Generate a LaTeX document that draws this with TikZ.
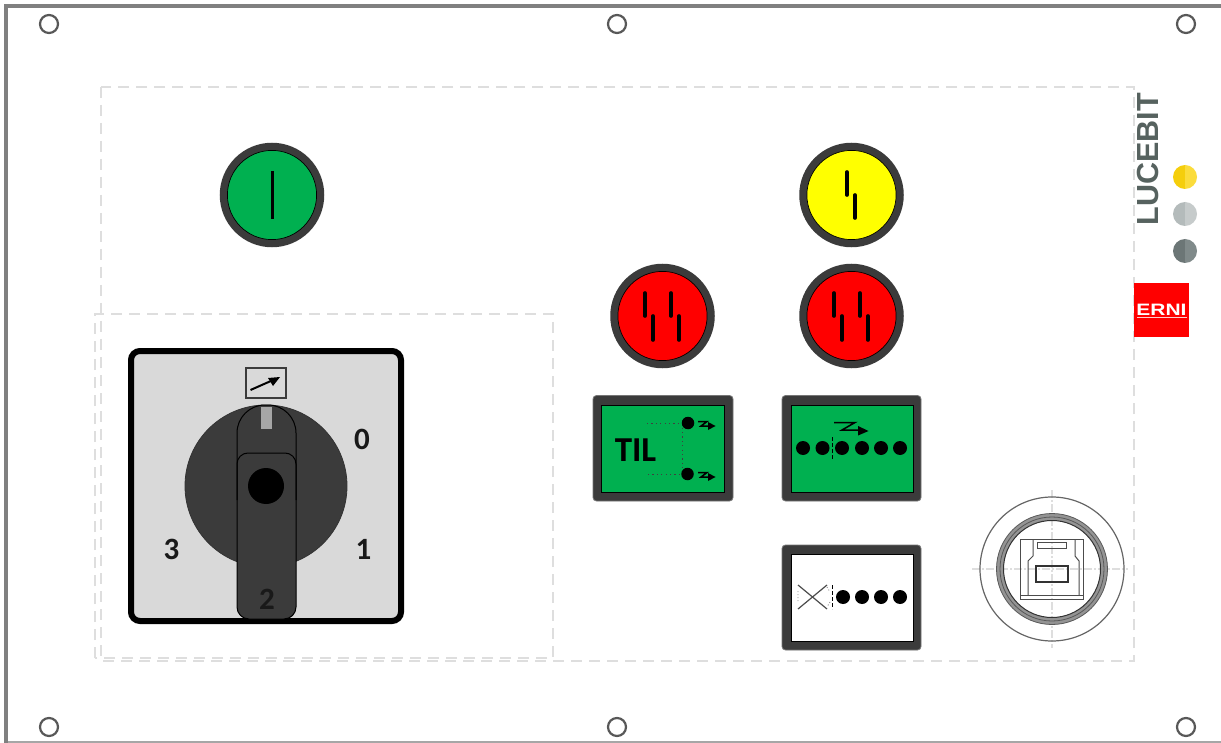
\documentclass[tikz,border=0pt]{standalone}
\usepackage{fontspec}
\setmainfont{Carlito}
\newfontfamily\logofont{Liberation Sans}
\definecolor{ringgrey}{HTML}{3B3B3B}
\definecolor{panelgrey}{HTML}{D9D9D9}
\definecolor{dashgrey}{HTML}{DEDEDE}
\definecolor{framegrey}{HTML}{808080}
\definecolor{btngreen}{HTML}{00B050}
\definecolor{btnyellow}{HTML}{FFFF00}
\definecolor{btnred}{HTML}{FF0000}
\definecolor{lucegrey}{HTML}{56625F}
\tikzset{
  x=1pt,y=-1pt,
  screwhole/.style={draw=ringgrey!85!white,line width=2.2pt,fill=white,circle,minimum size=18pt,inner sep=0pt},
  outlinedash/.style={draw=dashgrey,line width=2.4pt,dash pattern=on 11pt off 7pt},
  pushring/.style={draw=ringgrey,line width=7.5pt},
  pushedge/.style={draw=black,line width=.7pt},
  pushbar/.style={draw=black,line width=3.6pt,line cap=round},
  framebox/.style={fill=ringgrey,rounded corners=3.5pt,draw=ringgrey!70!white,line width=.8pt},
  framewin/.style={draw=black,line width=.8pt},
  blackdot/.style={fill=black,circle,minimum size=14pt,inner sep=0pt},
  smalldot/.style={fill=black,circle,minimum size=12.5pt,inner sep=0pt},
  dialnum/.style={font=\fontsize{31}{31}\selectfont\bfseries,text=black!90,inner sep=0pt},
  dots/.style={draw=black!75,line width=1pt,dash pattern=on 1.2pt off 3.2pt},
  usbline/.style={draw=black!70,line width=1pt},
  cross/.style={draw=dashgrey,line width=1.8pt,dash pattern=on 8pt off 2pt on 2pt off 2pt},
}
\newcommand{\zigmark}[2]{%
  \draw[black,line width=1.5pt] (#1-2,#2-2) -- (#1+7,#2-2) -- (#1+1,#2+2.5) -- (#1+8,#2+2.5);
  \fill[black] (#1+8,#2-1.5) -- (#1+15.5,#2+2.5) -- (#1+8,#2+6.5) -- cycle;
}
\newcommand{\pushbase}[3]{%
  \fill[#3] (#1,#2) circle (49);
  \draw[pushring] (#1,#2) circle (48.5);
  \draw[pushedge] (#1,#2) circle (44.6);
}
\begin{document}
\begin{tikzpicture}
\useasboundingbox (0,0) rectangle (1221,743);
\fill[white] (0,0) rectangle (1221,743);
% panel frame
\draw[framegrey!70!white,line width=1.5pt] (6,742.2) -- (1221,742.2);
\draw[framegrey,line width=3.6pt] (1221,6) -- (6,6) -- (6,743);
% screw holes
\node[screwhole] (s1) at (49,24) {};
\node[screwhole] (s2) at (617,24) {};
\node[screwhole] (s3) at (1186,24) {};
\node[screwhole] (s4) at (49,727) {};
\node[screwhole] (s5) at (617,727) {};
\node[screwhole] (s6) at (1186,727) {};
% dashed outlines
\draw[outlinedash] (101,87) rectangle (1134,661);
\draw[outlinedash] (95,658) -- (95,314) -- (553,314) -- (553,658) -- cycle;
% push buttons
\pushbase{272}{195}{btngreen}
\draw[black,line width=3pt] (272,171) -- (272,219);
\pushbase{851.5}{195}{btnyellow}
\draw[pushbar] (847,172) -- (847,195);
\draw[pushbar] (855,195) -- (855,218);
\foreach \cx/\nm in {662.5/a,851.5/b}{
  \pushbase{\cx}{316}{btnred}
  \draw[pushbar] (\cx-17.5,293) -- (\cx-17.5,316);
  \draw[pushbar] (\cx-9.5,316) -- (\cx-9.5,340);
  \draw[pushbar] (\cx+8.5,293) -- (\cx+8.5,316);
  \draw[pushbar] (\cx+16.5,316) -- (\cx+16.5,340);
}
% rotary switch
\draw[black,fill=panelgrey,line width=6pt,rounded corners=9pt] (131,351) rectangle (401,621);
\draw[ringgrey,fill=panelgrey,line width=2pt] (246,368) rectangle (286,398);
\draw[black,line width=2pt] (250.5,390) -- (272,380.5);
\fill[black] (280,377) -- (268,378) -- (273,386) -- cycle;
\fill[ringgrey,draw=black!80,line width=.8pt] (266,486) circle (81);
\draw[black,fill=ringgrey,line width=1pt]
  (266,619) [rounded corners=12pt] -- (296,619) -- (296,500) [rounded corners=28pt] -- (296,405) -- (237,405) -- (237,500) [rounded corners=12pt] -- (237,619) -- cycle;
\draw[black,line width=1pt,rounded corners=11pt] (237,500) -- (237,453) -- (296,453) -- (296,500);
\fill[black!35] (261,407) rectangle (272,429);
\fill[black] (266,486) circle (18);
\node[dialnum] (n0) at (362,439) {0};
\node[dialnum] (n1) at (363.5,549) {1};
\node[dialnum] (n2) at (267,599) {2};
\node[dialnum] (n3) at (171.5,549) {3};
% TIL indicator
\draw[framebox] (593,395.5) rectangle (733,501);
\fill[btngreen,framewin] (601,405) rectangle (724,492);
\node[font=\fontsize{35}{35}\selectfont\bfseries,inner sep=0pt] (til) at (635.5,450) {TIL};
\draw[dots] (647,423) -- (682,423) -- (682,474) -- (648,474);
\node[smalldot] (t1) at (688,423) {};
\node[smalldot] (t2) at (687.5,474) {};
\zigmark{700}{423.5}
\zigmark{700}{474.5}
% six-dot indicator
\draw[framebox] (782,395.5) rectangle (921,501);
\fill[btngreen,framewin] (791,405) rectangle (913,492);
\foreach \dx/\nm in {803/a,822.5/b,842/c,862/d,881/e,900/f}{\node[blackdot] (six\nm) at (\dx,448) {};}
\draw[black,line width=1pt,dash pattern=on 4pt off 2pt] (832,437) -- (832,460);
\draw[black,line width=1.5pt] (834,422.5) -- (855,422.5) -- (842,430) -- (858,430);
\fill[black] (858,426) -- (868.5,431) -- (858,435.5) -- cycle;
% four-dot indicator
\draw[framebox] (782,545) rectangle (921,650);
\fill[white,framewin] (791,554) rectangle (913,641);
\foreach \dx/\nm in {843/a,862/b,881/c,900/d}{\node[blackdot] (four\nm) at (\dx,597) {};}
\draw[black!70,line width=1.2pt] (798,585) -- (827,609) (798,609) -- (827,585);
\draw[black!45,line width=.8pt,dash pattern=on 1pt off 2pt] (798,591) -- (798,603) (827,587) -- (830,592) (830,602) -- (827,607);
\draw[black,line width=1pt,dash pattern=on 4pt off 2pt] (832,585) -- (832,609);
% USB socket
\draw[cross] (1052,490) -- (1052,648);
\draw[cross] (972,569) -- (1128,569);
\draw[black!60,line width=1.2pt] (1052,569) circle (72);
\draw[black!42,line width=7pt] (1052,569) circle (52);
\draw[black!65,line width=.8pt] (1052,569) circle (55.5);
\draw[black!65,line width=.8pt] (1052,569) circle (52);
\draw[black!80,line width=1pt] (1052,569) circle (48.5);
\draw[usbline] (1020,539) rectangle (1083,599);
\draw[usbline] (1033,539) -- (1033,556) -- (1028,561) -- (1028,595) (1075,539) -- (1075,556) -- (1079,561) -- (1079,595);
\draw[usbline] (1020,595) -- (1083,595);
\draw[usbline] (1037,542) rectangle (1066,548);
\draw[black!80,line width=2pt] (1036,565.5) rectangle (1068,582);
% logos
\node[font=\logofont\bfseries\fontsize{30.5}{32}\selectfont,text=lucegrey,rotate=90,inner sep=0pt] (luce) at (1147.5,159) {LUCEBIT};
\foreach \cy/\cl/\cr/\nm in {177/F5CE0C/FBDC3C/y,214/B4BBBB/C6CBCB/g,251/6C7676/808A8A/d}{
  \definecolor{halfl}{HTML}{\cl}\definecolor{halfr}{HTML}{\cr}
  \fill[halfl] (1185,\cy-12) arc[start angle=90,end angle=270,radius=12pt] -- cycle;
  \fill[halfr] (1185,\cy+12) arc[start angle=-90,end angle=90,radius=12pt] -- cycle;
}
\fill[btnred] (1134,283) rectangle (1189,337);
\node[font=\logofont\bfseries\fontsize{16.5}{16.5}\selectfont,text=white,inner sep=0pt,xscale=1.27] (erni) at (1161.5,309.5) {ERNI};
\draw[white!80!red,line width=1pt] (1137,317.5) -- (1187,317.5);
\end{tikzpicture}
\end{document}
